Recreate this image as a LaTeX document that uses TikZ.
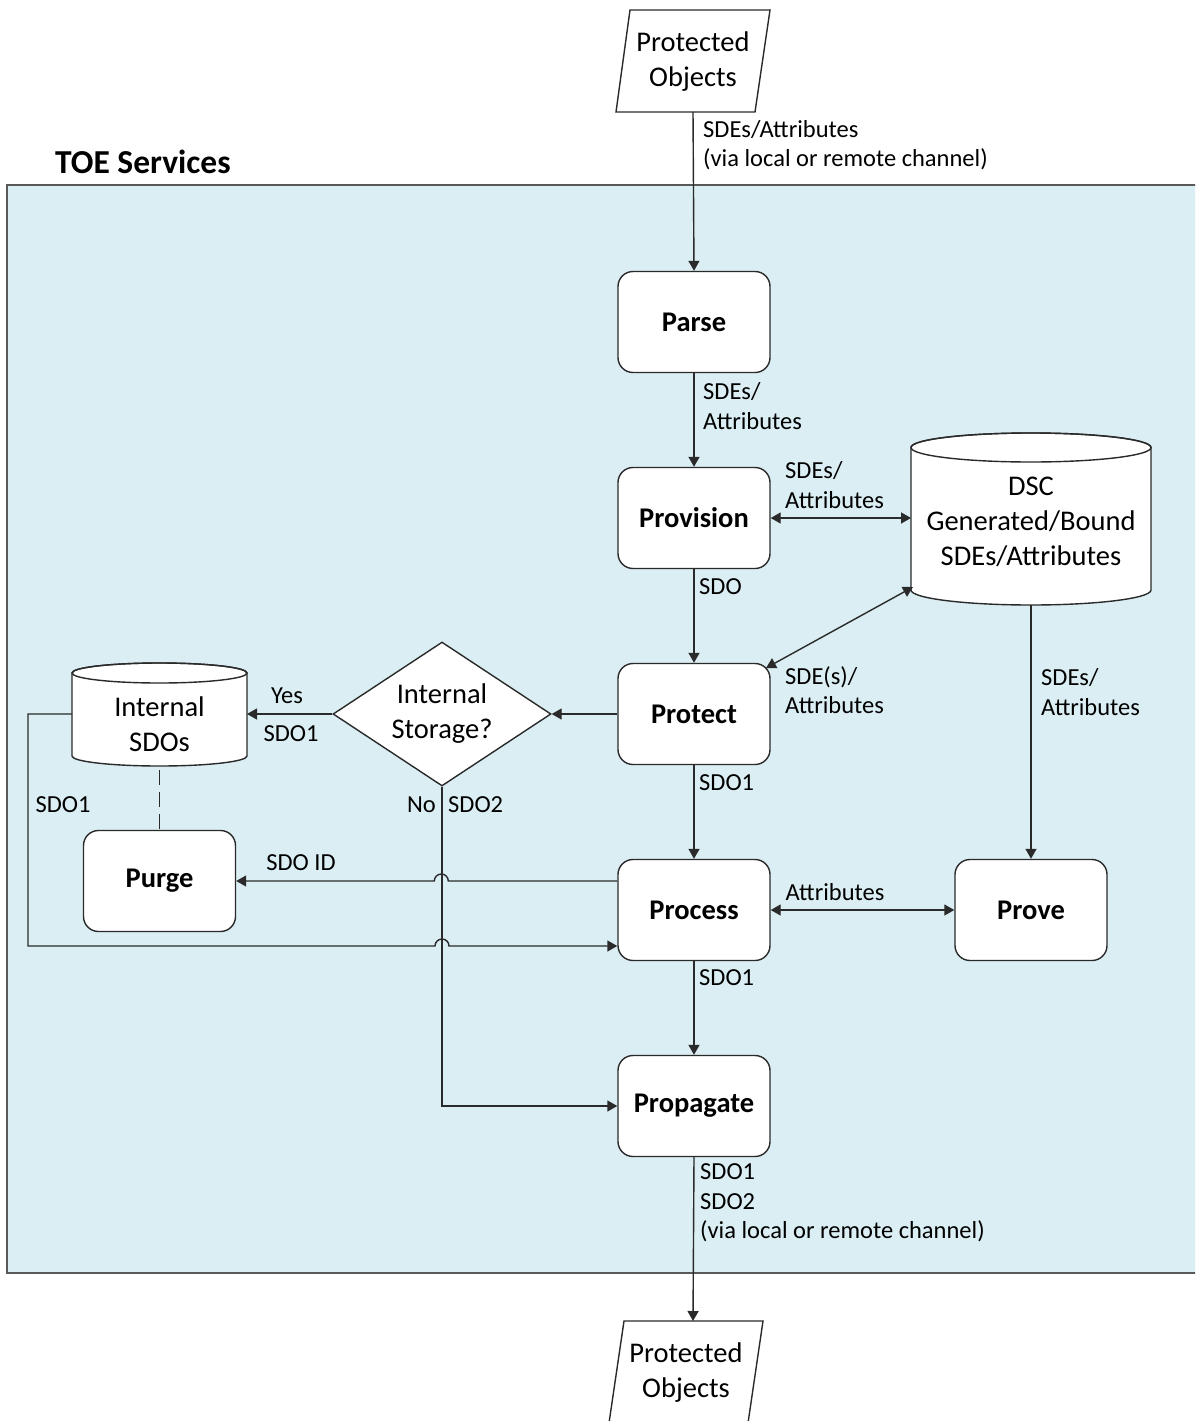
\documentclass[tikz,border=0pt]{standalone}
\usepackage{fontspec}
\setmainfont{Carlito}
\usetikzlibrary{arrows.meta,shapes.geometric}
\definecolor{toebg}{HTML}{DAEEF3}
\definecolor{ln}{HTML}{2A2A2A}
\begin{document}
\begin{tikzpicture}[x=1pt,y=1pt,
 proc/.style={draw=ln, line width=1.4pt, fill=white, rounded corners=15pt, minimum width=152pt, minimum height=101pt, inner sep=0pt, font=\fontsize{28.5}{35}\selectfont\bfseries},
 lbl/.style={font=\fontsize{24.5}{29.5}\selectfont, inner sep=0pt, align=left},
 txt/.style={font=\fontsize{28.5}{35}\selectfont, inner sep=0pt, align=center},
 conn/.style={draw=ln, line width=1.4pt, -{Triangle[length=10pt,width=11pt]}},
 dconn/.style={draw=ln, line width=1.4pt, {Triangle[length=10pt,width=11pt]}-{Triangle[length=10pt,width=11pt]}},
 plain/.style={draw=ln, line width=1.4pt},
]
\clip (0,0) rectangle (1195,-1421);
\fill[white] (0,0) rectangle (1195,-1421);
% TOE services area
\draw[draw=black!65, fill=toebg, line width=1.5pt] (7,-185) rectangle (1210,-1273);
\node[anchor=west, inner sep=0pt, font=\fontsize{33.5}{40}\selectfont\bfseries] (toe) at (55,-162) {TOE Services};

% top data object
\draw[plain, fill=white] (630,-10) -- (770,-10) -- (755,-112) -- (616,-112) -- cycle;
\node[txt] (topobj) at (693,-62) {Protected\\Objects};
\coordinate (topout) at (693,-112);

% bottom data object
\draw[plain, fill=white] (624,-1321) -- (763,-1321) -- (748,-1423) -- (609,-1423) -- cycle;
\node[txt] (botobj) at (686,-1373) {Protected\\Objects};
\coordinate (botin) at (693,-1321);

% DSC cylinder
\draw[plain, fill=white] (911,-447.5) -- (911,-590) arc[start angle=180, end angle=360, x radius=120pt, y radius=15pt] -- (1151,-447.5) arc[start angle=0, end angle=180, x radius=120pt, y radius=14.5pt] -- cycle;
\draw[plain] (1031,-447.5) ellipse [x radius=120pt, y radius=14.5pt];
\node[txt] (dsc) at (1031,-522) {DSC\\Generated/Bound\\SDEs/Attributes};
\coordinate (dscw) at (911,-518);
\coordinate (dscsw) at (913,-587);
\coordinate (dscs) at (1031,-605);

% Internal SDOs cylinder
\draw[plain, fill=white] (72,-673) -- (72,-756) arc[start angle=180, end angle=360, x radius=87.5pt, y radius=10pt] -- (247,-673) arc[start angle=0, end angle=180, x radius=87.5pt, y radius=10pt] -- cycle;
\draw[plain] (159.5,-673) ellipse [x radius=87.5pt, y radius=10pt];
\node[txt] (isdo) at (159.5,-724) {Internal\\SDOs};
\coordinate (isdoe) at (247,-714);
\coordinate (isdow) at (72,-714);
\coordinate (isdos) at (159.5,-770);

% process boxes
\node[proc] (parse) at (694,-322) {Parse};
\node[proc] (provision) at (694,-518) {Provision};
\node[proc] (protect) at (694,-714) {Protect};
\node[proc] (process) at (694,-910) {Process};
\node[proc] (propagate) at (694,-1106) {Propagate};
\node[proc] (purge) at (159.5,-881) {Purge};
\node[proc] (prove) at (1031,-910) {Prove};
\coordinate (protectne) at (766,-668);

% decision
\node[diamond, aspect=1.5, draw=ln, line width=1.4pt, fill=white, minimum width=218pt, minimum height=144pt, txt] (dec) at (442,-714) {Internal\\Storage?};

% connectors
\draw[conn] (topout) -- (parse.north);
\draw[conn] (parse.south) -- (provision.north);
\draw[dconn] (provision.east) -- (dscw);
\draw[conn] (provision.south) -- (protect.north);
\draw[dconn] (dscsw) -- (protectne);
\draw[conn] (protect.west) -- (dec.east);
\draw[conn] (dec.west) -- (isdoe);
\draw[conn] (protect.south) -- (process.north);
\draw[conn] (dscs) -- (prove.north);
\draw[dconn] (process.east) -- (prove.west);
\draw[conn] (process.south) -- (propagate.north);
\draw[conn] (propagate.south) -- (botin);
\draw[conn] (dec.south) |- (propagate.west);
\draw[conn] ([yshift=29pt]process.west) -- ++(-169,0) arc[start angle=0, end angle=180, radius=7pt] -- (purge.east);
\draw[conn] (isdow) -- (28,-714) -- (28,-946) -- (435,-946) arc[start angle=180, end angle=0, radius=7pt] -- ([yshift=-36pt]process.west);
\draw[plain, dash pattern=on 15pt off 7pt] (isdos) -- (purge.north);

% labels
\node[lbl, anchor=west] (l1) at (703,-145) {SDEs/Attributes\\(via local or remote channel)};
\node[lbl, anchor=west] (l2) at (703,-406) {SDEs/\\Attributes};
\node[lbl, anchor=west] (l3) at (785,-485) {SDEs/\\Attributes};
\node[lbl, anchor=west] (l4) at (699,-587) {SDO};
\node[lbl, anchor=west] (l5) at (785,-690) {SDE(s)/\\Attributes};
\node[lbl] (l6) at (287,-696) {Yes};
\node[lbl] (l7) at (291,-734) {SDO1};
\node[lbl] (l8) at (63,-805) {SDO1};
\node[lbl, anchor=east] (l9) at (436,-805) {No};
\node[lbl, anchor=west] (l10) at (448,-805) {SDO2};
\node[lbl, anchor=west] (l11) at (699,-783) {SDO1};
\node[lbl, anchor=west] (l12) at (1041,-692) {SDEs/\\Attributes};
\node[lbl] (l13) at (301,-863) {SDO ID};
\node[lbl] (l14) at (835,-892) {Attributes};
\node[lbl, anchor=west] (l15) at (699,-978) {SDO1};
\node[lbl, anchor=west] (l16) at (700,-1203) {SDO1\\SDO2\\(via local or remote channel)};
\end{tikzpicture}
\end{document}
